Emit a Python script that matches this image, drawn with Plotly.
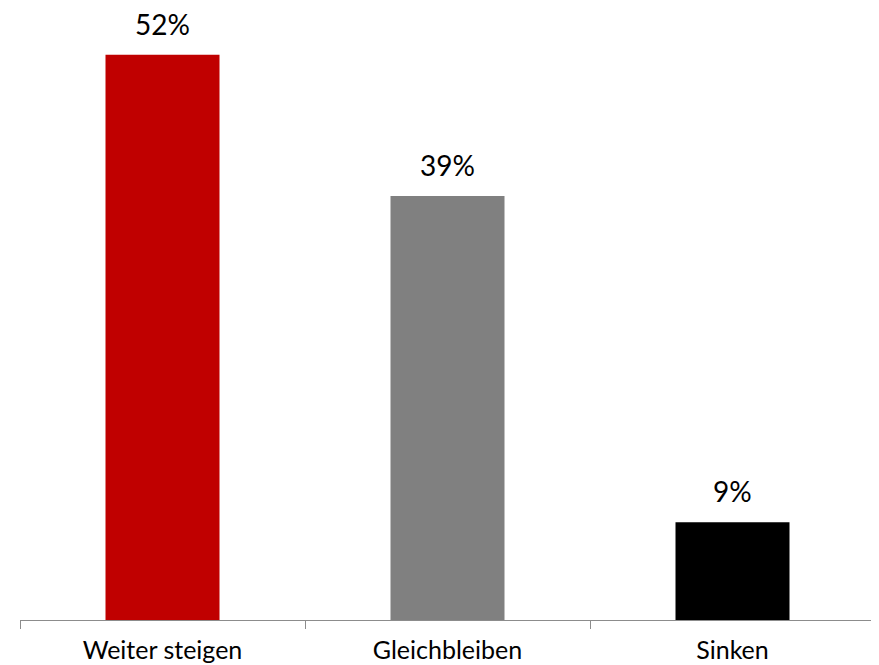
import plotly.graph_objects as go

categories = ["Weiter steigen", "Gleichbleiben", "Sinken"]
values = [52, 39, 9]
labels = ["52%", "39%", "9%"]
colors = ["#C00000", "#808080", "#000000"]

FONT = "Lato, Calibri, Carlito, sans-serif"

fig = go.Figure(go.Bar(
    x=categories, y=values, marker=dict(color=colors, line=dict(width=0)),
    hoverinfo="skip",
))

for c, v, t in zip(categories, values, labels):
    fig.add_annotation(x=c, y=v, text=t, showarrow=False, yanchor="bottom",
                       yshift=12, font=dict(family=FONT, size=28, color="#000000"))

# page body adds an 8px offset, so the figure is sized to fit the window
fig.update_layout(
    width=871, height=657,
    margin=dict(l=12, r=4, t=0, b=45, autoexpand=False),
    paper_bgcolor="white", plot_bgcolor="white",
    bargap=0.6, showlegend=False,
    font=dict(family=FONT, size=25, color="#000000"),
)
fig.update_xaxes(
    showline=True, linecolor="#8C8C8C", linewidth=1,
    ticks="outside", tickson="boundaries", ticklen=8, tickcolor="#8C8C8C",
    tickfont=dict(family=FONT, size=25, color="#000000"),
    ticklabelstandoff=8,
    showgrid=False, zeroline=False, automargin=False,
)
fig.update_yaxes(range=[0, 56.3], visible=False, showgrid=False, zeroline=False,
                 automargin=False)

fig.write_html("out.html")
